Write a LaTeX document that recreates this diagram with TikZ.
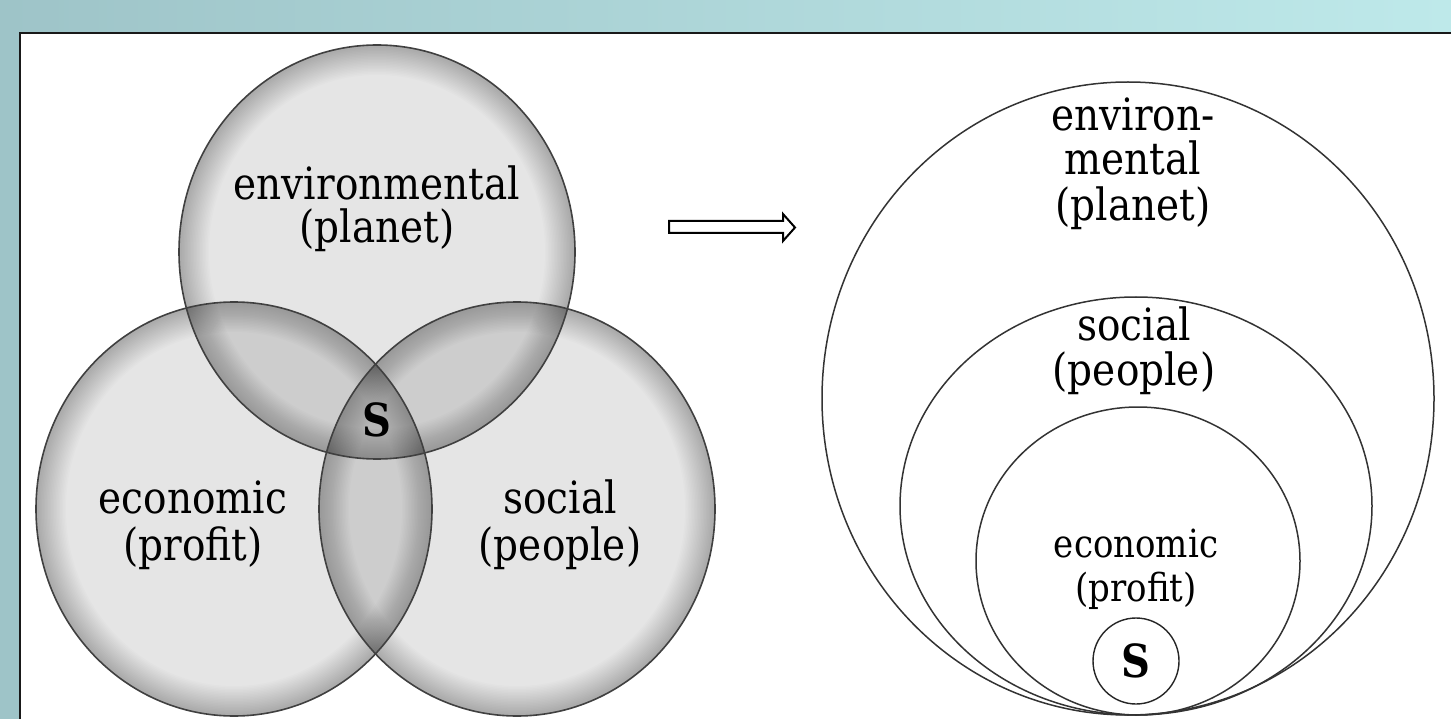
\documentclass[tikz,border=0pt]{standalone}
\usepackage{fontspec}
\setmainfont{DejaVu Serif}
\newcommand\tallt[1]{\scalebox{1}[1.14]{#1}}
\begin{document}
\begin{tikzpicture}[x=1pt,y=-1pt,
  lbl/.style={anchor=base,inner sep=0pt,font=\fontsize{39}{44}\selectfont},
  lblsmall/.style={anchor=base,inner sep=0pt,font=\fontsize{34}{40}\selectfont},
  sbold/.style={anchor=base,inner sep=0pt,font=\fontsize{40}{44}\selectfont\bfseries},
  outline/.style={draw=black!75,line width=1.6pt},
  nest/.style={draw=black!80,line width=1.5pt}]
\useasboundingbox (0,0) rectangle (1451,719);
% background
\shade[left color={rgb,255:red,158;green,196;blue,200},right color={rgb,255:red,190;green,233;blue,234}] (0,0) rectangle (1451,719);
\fill[white] (20,33) rectangle (1460,730);
\draw[black!90,line width=2.5pt] (20,730) -- (20,33) -- (1460,33);
% Venn
\def\rx{198pt}\def\ry{207pt}
\foreach \c in {(377,252),(234,509),(517,509)}{
  \fill[black,fill opacity=0.1] \c ellipse [x radius=\rx,y radius=\ry];
}
\foreach \c in {(377,252),(234,509),(517,509)}{
  \begin{scope}
    \clip \c ellipse [x radius=\rx,y radius=\ry];
    \foreach \w in {6,9,...,60}
      \draw[black,line width=\w pt,draw opacity=0.012] \c ellipse [x radius=\rx,y radius=\ry];
  \end{scope}
}
\foreach \c in {(377,252),(234,509),(517,509)}{
  \draw[outline] \c ellipse [x radius=\rx,y radius=\ry];
}
\node[lbl] (env1) at (377,200) {\tallt{environmental}};
\node[lbl] (env2) at (377,243) {\tallt{(planet)}};
\node[lbl] (eco1) at (193,513) {\tallt{economic}};
\node[lbl] (eco2) at (193,560) {\tallt{(profit)}};
\node[lbl] (soc1) at (560,513) {\tallt{social}};
\node[lbl] (soc2) at (560,560) {\tallt{(people)}};
\node[sbold] (sv) at (377,436) {\tallt{S}};
% arrow
\draw[black,line width=2pt,fill=white,line join=miter]
  (669,221) -- (783,221) -- (783,214) -- (795,227.5) -- (783,241) -- (783,233) -- (669,233) -- cycle;
% nested
\draw[nest] (1128,398.5) ellipse [x radius=306pt,y radius=316.5pt];
\draw[nest] (1136,506) ellipse [x radius=236pt,y radius=209pt];
\draw[nest] (1138,561) ellipse [x radius=162pt,y radius=154pt];
\node[circle,draw=black!85,line width=1.4pt,minimum size=86pt,inner sep=0pt] (sc) at (1136,661) {};
\node[sbold] (sn) at (1136,677) {\tallt{S}};
\node[lbl] (r1) at (1133,131) {\tallt{environ-}};
\node[lbl] (r2) at (1133,175) {\tallt{mental}};
\node[lbl] (r3) at (1133,221) {\tallt{(planet)}};
\node[lbl] (r4) at (1134,341) {\tallt{social}};
\node[lbl] (r5) at (1134,385) {\tallt{(people)}};
\node[lblsmall] (r6) at (1136,557) {\tallt{economic}};
\node[lblsmall] (r7) at (1136,601) {\tallt{(profit)}};
\end{tikzpicture}
\end{document}
